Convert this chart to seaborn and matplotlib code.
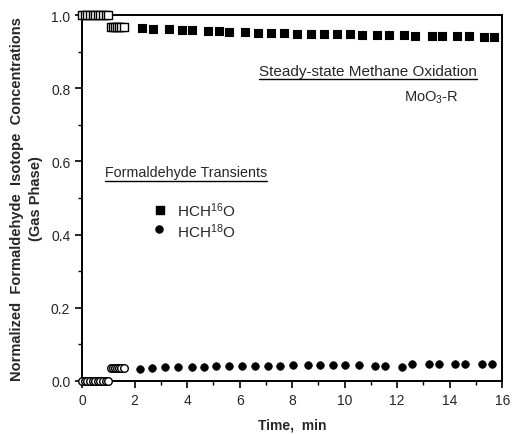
import numpy as np
import pandas as pd
import seaborn as sns
import matplotlib.pyplot as plt
from matplotlib.lines import Line2D

# early transient points (drawn hollow / crowded in the original)
t_early = [0.0, 0.1, 0.2, 0.3, 0.4, 0.5, 0.6, 0.7, 0.8, 0.9, 1.0,
           1.1, 1.18, 1.26, 1.34, 1.42, 1.5, 1.58]
h16_early = [1.0, 1.0, 1.0, 1.0, 1.0, 1.0, 1.0, 1.0, 1.0, 1.0, 1.0,
             0.968, 0.968, 0.968, 0.968, 0.968, 0.968, 0.968]
h18_early = [0.0, 0.0, 0.0, 0.0, 0.0, 0.0, 0.0, 0.0, 0.0, 0.0, 0.0,
             0.034, 0.036, 0.036, 0.035, 0.035, 0.036, 0.036]

# steady-state points
t16 = [2.3, 2.7, 3.3, 3.8, 4.2, 4.8, 5.2, 5.6, 6.2, 6.7, 7.2, 7.7,
       8.2, 8.7, 9.2, 9.7, 10.2, 10.65, 11.25, 11.67, 12.27, 12.69,
       13.32, 13.7, 14.27, 14.72, 15.29, 15.7]
h16 = [0.964, 0.962, 0.961, 0.960, 0.958, 0.957, 0.956, 0.955, 0.953, 0.952, 0.951, 0.950,
       0.949, 0.948, 0.948, 0.947, 0.947, 0.946, 0.946, 0.945, 0.945, 0.944,
       0.943, 0.943, 0.942, 0.942, 0.941, 0.941]

t18 = [2.2, 2.68, 3.16, 3.67, 4.18, 4.63, 5.1, 5.6, 6.08, 6.6, 7.08, 7.54, 8.05,
       8.62, 9.07, 9.55, 10.0, 10.53, 11.16, 11.54, 12.18, 12.56, 13.2, 13.58,
       14.2, 14.58, 15.22, 15.6]
h18 = [0.033, 0.036, 0.037, 0.037, 0.038, 0.039, 0.040, 0.040, 0.041, 0.041, 0.042, 0.042, 0.043,
       0.043, 0.043, 0.043, 0.043, 0.043, 0.041, 0.041, 0.038, 0.046, 0.045, 0.045,
       0.045, 0.045, 0.045, 0.045]

sns.set_style("ticks")
plt.rcParams['font.family'] = ['Liberation Sans', 'DejaVu Sans']
plt.rcParams['mathtext.default'] = 'regular'

fig = plt.figure(figsize=(5.13, 4.35), dpi=100)
ax = fig.add_axes([0.160, 0.122, 0.819, 0.841])

early = pd.DataFrame({"t": t_early, "h16": h16_early, "h18": h18_early})
sq = pd.DataFrame({"t": t16, "v": h16})
ci = pd.DataFrame({"t": t18, "v": h18})

sns.scatterplot(data=early, x="t", y="h16", marker="s", s=38, color="white",
                edgecolor="black", linewidth=1.0, ax=ax, clip_on=False, zorder=3)
sns.scatterplot(data=early, x="t", y="h18", marker="o", s=30, color="white",
                edgecolor="black", linewidth=1.0, ax=ax, clip_on=False, zorder=3)
sns.scatterplot(data=sq, x="t", y="v", marker="s", s=38, color="black",
                edgecolor="black", linewidth=0.8, ax=ax, clip_on=False, zorder=3)
sns.scatterplot(data=ci, x="t", y="v", marker="o", s=30, color="black",
                edgecolor="black", linewidth=0.5, ax=ax, clip_on=False, zorder=3)

ax.set_xlim(0, 16)
ax.set_ylim(0, 1.0)
ax.set_xticks(np.arange(0, 17, 2))
ax.set_xticks(np.arange(1, 16, 2), minor=True)
ax.set_yticks(np.arange(0, 1.01, 0.2))
ax.set_yticks(np.arange(0.1, 1.0, 0.2), minor=True)
ax.set_yticklabels(["0.0", "0.2", "0.4", "0.6", "0.8", "1.0"])
ax.tick_params(axis="both", which="major", length=5, width=1.2, labelsize=10, direction="out", color="black")
ax.tick_params(axis="both", which="minor", length=3, width=1.0, direction="out", color="black")
for s in ax.spines.values():
    s.set_linewidth(1.4)
    s.set_color("black")

ax.set_xlabel("Time,  min", fontsize=10, fontweight="bold")
ax.xaxis.set_label_coords(0.5, -0.10)
ax.set_ylabel("Normalized  Formaldehyde  Isotope  Concentrations\n(Gas Phase)",
              fontsize=10.5, fontweight="bold", linespacing=1.45)
ax.yaxis.set_label_coords(-0.092, 0.5)

# annotations
t1 = ax.text(10.9, 0.848, "Steady-state Methane Oxidation", ha="center", va="center", fontsize=11)
ax.text(13.3, 0.778, "MoO$_3$-R", ha="center", va="center", fontsize=10.5)
t2 = ax.text(3.96, 0.570, "Formaldehyde Transients", ha="center", va="center", fontsize=10.3)

ax.scatter([2.97], [0.467], marker="s", s=38, color="black")
ax.scatter([2.93], [0.416], marker="o", s=26, color="black")
ax.text(3.6, 0.467, "HCH$^{16}$O", ha="left", va="center", fontsize=11)
ax.text(3.6, 0.410, "HCH$^{18}$O", ha="left", va="center", fontsize=11)

# underline the two headings
fig.canvas.draw()
inv = fig.transFigure.inverted()
for t in (t1, t2):
    bb = t.get_window_extent()
    (x0, y0), (x1, _) = inv.transform([(bb.x0, bb.y0), (bb.x1, bb.y1)])
    fig.add_artist(Line2D([x0, x1], [y0 - 0.004, y0 - 0.004], color="black", lw=1.0,
                          transform=fig.transFigure))

fig.savefig("out.png", dpi=100)
